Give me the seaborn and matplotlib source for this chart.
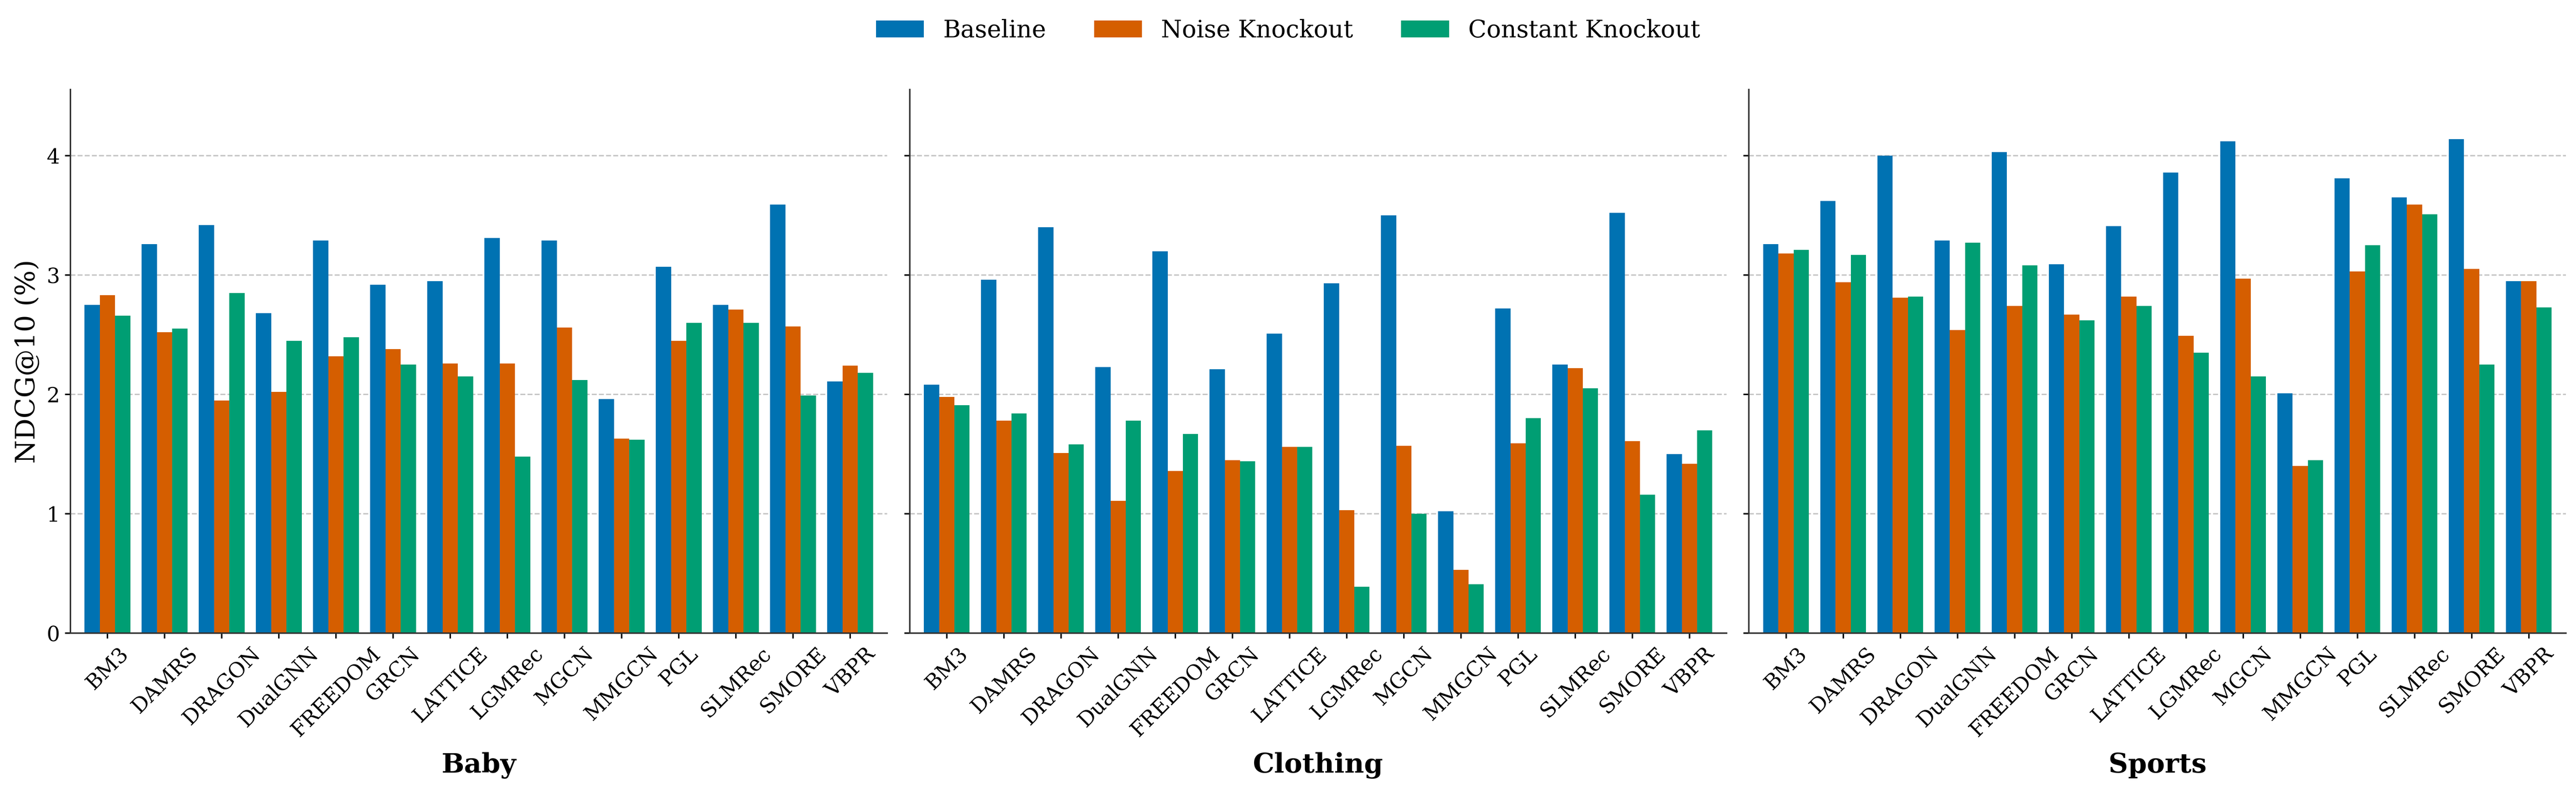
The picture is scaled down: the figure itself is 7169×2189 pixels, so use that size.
import matplotlib
matplotlib.use('Agg')
import matplotlib.pyplot as plt
import pandas as pd
import seaborn as sns

# values (NDCG@10, %)
models = ['BM3', 'DAMRS', 'DRAGON', 'DualGNN', 'FREEDOM', 'GRCN', 'LATTICE',
          'LGMRec', 'MGCN', 'MMGCN', 'PGL', 'SLMRec', 'SMORE', 'VBPR']
variants = ['Baseline', 'Noise Knockout', 'Constant Knockout']
datasets = ['Baby', 'Clothing', 'Sports']

baby_baseline = [2.75, 3.26, 3.42, 2.68, 3.29, 2.92, 2.95, 3.31, 3.29, 1.96, 3.07, 2.75, 3.59, 2.11]
baby_noise = [2.83, 2.52, 1.95, 2.02, 2.32, 2.38, 2.26, 2.26, 2.56, 1.63, 2.45, 2.71, 2.57, 2.24]
baby_const = [2.66, 2.55, 2.85, 2.45, 2.48, 2.25, 2.15, 1.48, 2.12, 1.62, 2.60, 2.60, 1.99, 2.18]

clothing_baseline = [2.08, 2.96, 3.40, 2.23, 3.20, 2.21, 2.51, 2.93, 3.50, 1.02, 2.72, 2.25, 3.52, 1.50]
clothing_noise = [1.98, 1.78, 1.51, 1.11, 1.36, 1.45, 1.56, 1.03, 1.57, 0.53, 1.59, 2.22, 1.61, 1.42]
clothing_const = [1.91, 1.84, 1.58, 1.78, 1.67, 1.44, 1.56, 0.39, 1.00, 0.41, 1.80, 2.05, 1.16, 1.70]

sports_baseline = [3.26, 3.62, 4.00, 3.29, 4.03, 3.09, 3.41, 3.86, 4.12, 2.01, 3.81, 3.65, 4.14, 2.95]
sports_noise = [3.18, 2.94, 2.81, 2.54, 2.74, 2.67, 2.82, 2.49, 2.97, 1.40, 3.03, 3.59, 3.05, 2.95]
sports_const = [3.21, 3.17, 2.82, 3.27, 3.08, 2.62, 2.74, 2.35, 2.15, 1.45, 3.25, 3.51, 2.25, 2.73]

colors = ['#0072B2', '#D55E00', '#009E73']

series = {
    'Baby': [baby_baseline, baby_noise, baby_const],
    'Clothing': [clothing_baseline, clothing_noise, clothing_const],
    'Sports': [sports_baseline, sports_noise, sports_const],
}

# long-form table for seaborn
rows = []
for ds in datasets:
    for var, vals in zip(variants, series[ds]):
        for m, v in zip(models, vals):
            rows.append({'dataset': ds, 'model': m, 'variant': var, 'value': v})
df = pd.DataFrame(rows)

sns.set_style('white')
plt.rcParams['font.family'] = ['DejaVu Serif']
plt.rcParams['text.color'] = 'black'
plt.rcParams['axes.labelcolor'] = 'black'
plt.rcParams['axes.edgecolor'] = '#333333'
plt.rcParams['axes.linewidth'] = 1.0
plt.rcParams['xtick.color'] = 'black'
plt.rcParams['ytick.color'] = 'black'

fig, axes = plt.subplots(1, 3, figsize=(7169 / 300, 2189 / 300), dpi=300, sharey=True)
fig.subplots_adjust(left=0.0273, right=0.9961, bottom=0.1955, top=0.8862, wspace=0.0273)

ymax = df['value'].max() * 1.1

for i, (ax, ds) in enumerate(zip(axes, datasets)):
    sub = df[df['dataset'] == ds]
    sns.barplot(data=sub, x='model', y='value', hue='variant', order=models,
                hue_order=variants, palette=colors, saturation=1, ax=ax,
                errorbar=None, linewidth=0, legend=(i == 0))
    ax.set_xlim(-0.65, 13.65)
    ax.set_ylim(0, ymax)
    ax.set_yticks([0, 1, 2, 3, 4])
    ax.grid(axis='y', linestyle='--', color='#c4c4c4', linewidth=0.9)
    ax.set_axisbelow(True)
    sns.despine(ax=ax)
    ax.tick_params(axis='both', which='major', direction='out', length=3.5,
                   width=1.0, labelsize=14, bottom=True, left=True)
    plt.setp(ax.get_xticklabels(), rotation=45)
    ax.set_xlabel(ds, fontsize=18, fontweight='bold', labelpad=8)
    ax.set_ylabel('')

axes[0].set_ylabel('NDCG@10 (%)', fontsize=18)

handles, labels = axes[0].get_legend_handles_labels()
axes[0].get_legend().remove()
fig.legend(handles, labels, loc='center', bbox_to_anchor=(0.5, 0.961), ncol=3,
           frameon=False, fontsize=16)

fig.savefig('out.png', dpi=300)
